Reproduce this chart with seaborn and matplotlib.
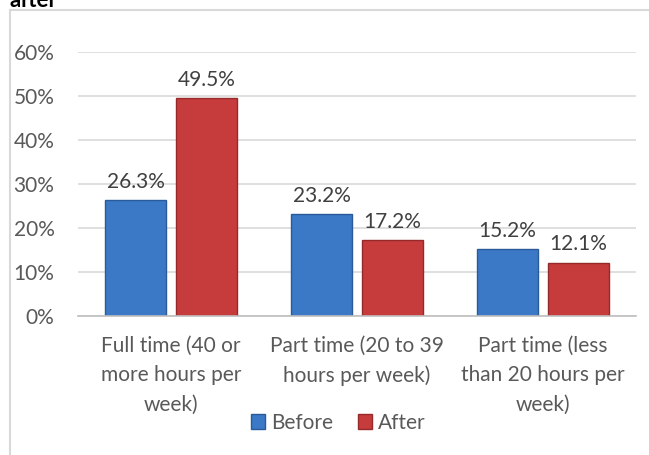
import matplotlib
matplotlib.use("Agg")
import matplotlib.pyplot as plt
import matplotlib.patches as mpatches
import seaborn as sns
import pandas as pd

categories = ["Full time (40 or\nmore hours per\nweek)",
              "Part time (20 to 39\nhours per week)",
              "Part time (less\nthan 20 hours per\nweek)"]
before = [0.263, 0.232, 0.152]
after = [0.495, 0.172, 0.121]
series = ["Before", "After"]
yticks = [0, 0.1, 0.2, 0.3, 0.4, 0.5, 0.6]

colors = {"Before": "#3b78c6", "After": "#c63b3b"}
edges = {"Before": "#2a5a9a", "After": "#962a2a"}
fs = 15

df = pd.DataFrame({
    "category": categories * 2,
    "share": before + after,
    "series": ["Before"] * 3 + ["After"] * 3,
})

sns.set_style("white")
plt.rcParams["font.family"] = ["Lato", "DejaVu Sans"]

fig = plt.figure(figsize=(6.49, 4.55), dpi=100)
ax = fig.add_axes([78 / 649, 1 - 316 / 455, (636 - 78) / 649, (316 - 52) / 455])

sns.barplot(data=df, x="category", y="share", hue="series", hue_order=series,
            palette=colors, width=0.764, gap=0.15, ax=ax, legend=False,
            linewidth=1, saturation=1)

for cont, s in zip(ax.containers, series):
    for bar in cont:
        bar.set_edgecolor(edges[s])
    ax.bar_label(cont, labels=[f"{v * 100:.1f}%" for v in cont.datavalues],
                 padding=6, fontsize=fs, color="#404040")

ax.set_ylim(0, 0.6)
ax.set_yticks(yticks)
ax.set_yticklabels([f"{int(round(t * 100))}%" for t in yticks], fontsize=fs, color="#595959")
ax.set_xlim(-0.5, 2.5)
ax.tick_params(axis="x", labelsize=fs, labelcolor="#595959", length=0, pad=14)
ax.tick_params(axis="y", length=0, pad=17)
for lbl in ax.get_xticklabels():
    lbl.set_linespacing(1.6)
ax.set_xlabel("")
ax.set_ylabel("")
ax.yaxis.grid(True, color="#d9d9d9", linewidth=1.2)
ax.set_axisbelow(True)
for sp in ["top", "right", "left"]:
    ax.spines[sp].set_visible(False)
ax.spines["bottom"].set_color("#bfbfbf")
ax.spines["bottom"].set_linewidth(1.2)

handles = [mpatches.Patch(facecolor=colors[s], edgecolor=edges[s], label=s) for s in series]
fig.legend(handles=handles, loc="center", bbox_to_anchor=(338 / 649, 1 - 423 / 455),
           ncol=2, frameon=False, fontsize=fs, handlelength=0.7, handleheight=0.7,
           handletextpad=0.25, columnspacing=1.2, labelcolor="#595959")

# outer chart frame
fig.patches.append(mpatches.Rectangle((10 / 649, -0.05), 1.1, 1 - 10 / 455 + 0.05,
                                      transform=fig.transFigure, fill=False,
                                      edgecolor="#d9d9d9", linewidth=1.5))
fig.text(10 / 649, 1 - 7 / 455, "after", fontsize=16, fontweight="bold",
         color="black", va="baseline", ha="left")

fig.savefig("out.png", dpi=100)
